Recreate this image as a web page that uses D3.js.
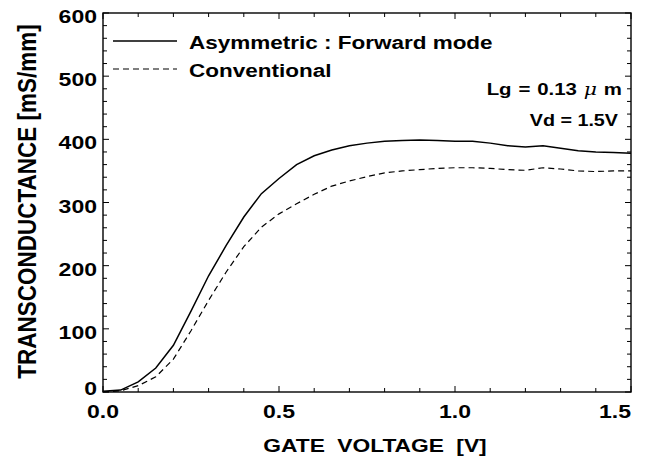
<!DOCTYPE html>
<html>
<head>
<meta charset="utf-8">
<script src="https://cdn.jsdelivr.net/npm/d3@7"></script>
<style>
  body { margin: 0; background: #fff; }
  svg text { font-family: "Liberation Sans", Arial, Helvetica, sans-serif; font-weight: bold; fill: #000; }
</style>
</head>
<body>
<div id="chart"></div>
<script>
const gateVoltage = [0, 0.05, 0.1, 0.15, 0.2, 0.25, 0.3, 0.35, 0.4, 0.45, 0.5,
  0.55, 0.6, 0.65, 0.7, 0.75, 0.8, 0.85, 0.9, 0.95, 1.0,
  1.05, 1.1, 1.15, 1.2, 1.25, 1.3, 1.35, 1.4, 1.45, 1.5];
const asymmetric = [1, 3, 16, 38, 74, 128, 184, 232, 277, 314, 338,
  360, 374, 383, 390, 394, 397, 398, 399, 398, 397,
  397, 394, 390, 388, 390, 386, 382, 380, 379, 378];
const conventional = [0, 2, 10, 24, 52, 97, 145, 190, 230, 261, 282,
  298, 313, 326, 334, 341, 347, 350, 352, 354, 355,
  355, 354, 352, 351, 355, 353, 350, 349, 350, 350];
const xTicks = [0, 0.5, 1.0, 1.5];
const yTicks = [0, 100, 200, 300, 400, 500, 600];
const seriesNames = ['Asymmetric : Forward mode', 'Conventional'];

const WIDTH = 652;
const HEIGHT = 464;
const margin = { top: 13, right: 21, bottom: 72, left: 103 };
const STRETCH = 1.25; // the original lettering is wide

const svg = d3.select('#chart').append('svg')
  .attr('width', WIDTH).attr('height', HEIGHT);

const x = d3.scaleLinear().domain([0, 1.5]).range([margin.left, WIDTH - margin.right]);
const y = d3.scaleLinear().domain([0, 600]).range([HEIGHT - margin.bottom, margin.top]);

const x0 = x.range()[0], x1 = x.range()[1];
const y0 = y.range()[0], y1 = y.range()[1];

// horizontal text, widened around its anchor point
const wideText = (parent, tx, ty, str, size, anchor, sx = STRETCH) =>
  parent.append('text')
    .attr('transform', `translate(${tx}, ${ty}) scale(${sx}, 1)`)
    .attr('text-anchor', anchor)
    .style('font-size', `${size}px`)
    .text(str);

// frame
svg.append('rect')
  .attr('x', x0).attr('y', y1)
  .attr('width', x1 - x0).attr('height', y0 - y1)
  .attr('fill', 'none').attr('stroke', '#000').attr('stroke-width', 1.4);

const minorX = d3.range(0, 1.51, 0.1);
const minorY = d3.range(0, 601, 20);
const isMajorX = (v) => Math.abs(v * 2 - Math.round(v * 2)) < 1e-6;
const isMajorY = (v) => v % 100 === 0;

// inward ticks on all four sides
const ticks = svg.append('g').attr('stroke', '#000').attr('stroke-width', 1);
minorX.forEach((v) => {
  const len = isMajorX(v) ? 6 : 4;
  ticks.append('line').attr('x1', x(v)).attr('x2', x(v)).attr('y1', y0).attr('y2', y0 - len);
  ticks.append('line').attr('x1', x(v)).attr('x2', x(v)).attr('y1', y1).attr('y2', y1 + len);
});
minorY.forEach((v) => {
  const len = isMajorY(v) ? 6 : 4;
  ticks.append('line').attr('y1', y(v)).attr('y2', y(v)).attr('x1', x0).attr('x2', x0 + len);
  ticks.append('line').attr('y1', y(v)).attr('y2', y(v)).attr('x1', x1).attr('x2', x1 - len);
});

// tick labels
const xLabels = svg.append('g');
xTicks.forEach((d, i) => {
  const last = i === xTicks.length - 1;
  wideText(xLabels, x(d), y0 + 26, d.toFixed(1), 18, last ? 'end' : 'middle', 1.28);
});

const yLabels = svg.append('g');
yTicks.forEach((d, i) => {
  wideText(yLabels, x0 - 6, y(d) + (i === 0 ? 3 : 10), d, 18, 'end', 1.28);
});

// axis titles
wideText(svg, (x0 + x1) / 2 + 8, HEIGHT - 12, 'GATE VOLTAGE [V]', 19, 'middle', 1.2)
  .style('word-spacing', '5px');

svg.append('text')
  .attr('transform', `translate(36, ${(y0 + y1) / 2 - 1}) scale(1.15, 1) rotate(-90)`)
  .attr('text-anchor', 'middle')
  .style('font-size', '22.5px')
  .text('TRANSCONDUCTANCE [mS/mm]');

// curves
const line = d3.line()
  .x((d) => x(d[0]))
  .y((d) => y(d[1]));

svg.append('path')
  .datum(gateVoltage.map((v, i) => [v, asymmetric[i]]))
  .attr('d', line)
  .attr('fill', 'none').attr('stroke', '#000').attr('stroke-width', 1.5);

svg.append('path')
  .datum(gateVoltage.map((v, i) => [v, conventional[i]]))
  .attr('d', line)
  .attr('fill', 'none').attr('stroke', '#000').attr('stroke-width', 1.2)
  .attr('stroke-dasharray', '6,4');

// legend
const legend = svg.append('g');
seriesNames.forEach((name, i) => {
  const ly = 41 + i * 28;
  legend.append('line')
    .attr('x1', 113).attr('x2', 177).attr('y1', ly).attr('y2', ly)
    .attr('stroke', '#000').attr('stroke-width', i === 0 ? 1.5 : 1.2)
    .attr('stroke-dasharray', i === 0 ? null : '6,4');
  wideText(legend, 189, ly + 7.5, name, 18, 'start');
});

// annotation
const note = svg.append('g');
const lg = note.append('text')
  .attr('transform', 'translate(622, 95) scale(1.2, 1)')
  .attr('text-anchor', 'end')
  .style('font-size', '17px')
  .style('word-spacing', '1px');
lg.append('tspan').text('Lg = 0.13 ');
lg.append('tspan').style('font-style', 'italic').style('font-weight', 'normal')
  .style('font-family', '"DejaVu Serif", serif').text('\u03bc');
lg.append('tspan').text(' m');
wideText(note, 618, 126, 'Vd = 1.5V', 17, 'end', 1.16);
</script>
</body>
</html>
